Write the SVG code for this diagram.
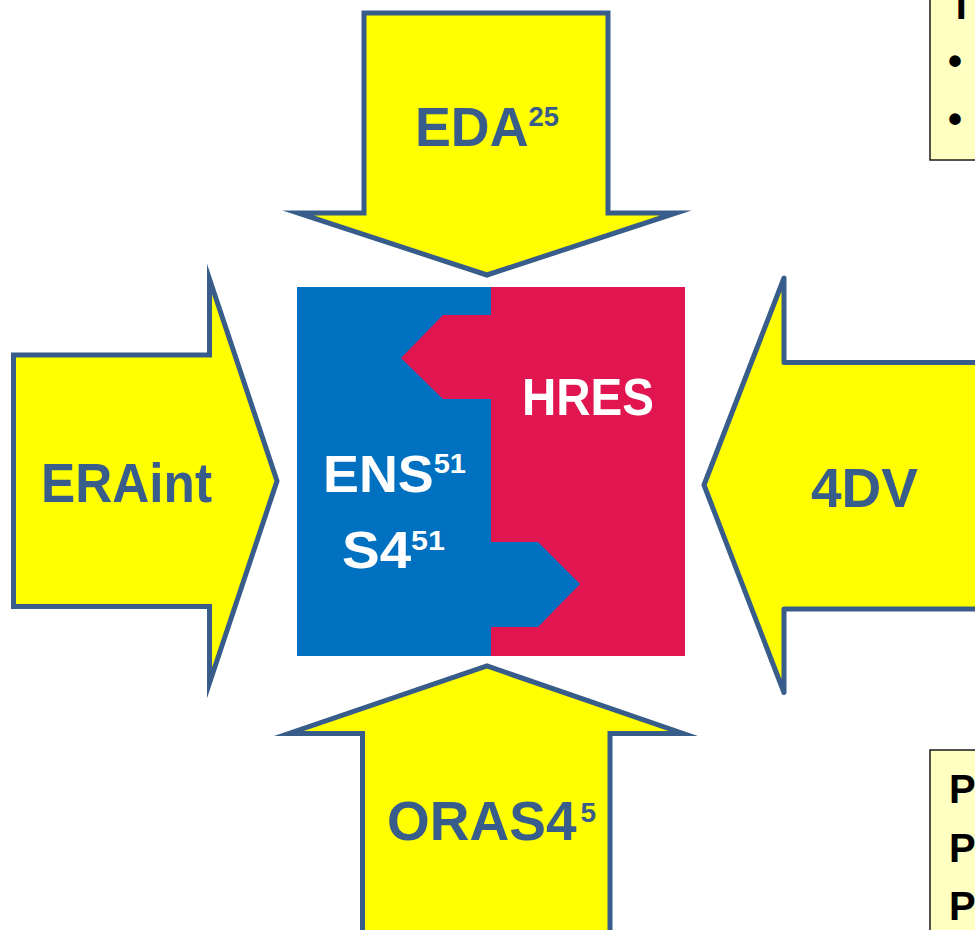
<svg xmlns="http://www.w3.org/2000/svg" width="975" height="930" viewBox="0 0 975 930">
<style>
.arrow{fill:#FFFF00;stroke:#385D8A;stroke-width:5;stroke-miterlimit:10}
.lbl{font-family:"Liberation Sans",Arial,sans-serif;font-weight:bold;fill:#385D8A;font-size:55px}
.wl{font-family:"Liberation Sans",Arial,sans-serif;font-weight:bold;fill:#FFFFFF;font-size:52px}
.sup{font-size:28px}
.note{fill:#FFFFC1;stroke:#1A1A1A;stroke-width:1.5}
.nt{font-family:"Liberation Sans",Arial,sans-serif;font-weight:bold;fill:#000000;font-size:40px}
</style>
<rect width="975" height="930" fill="#FFFFFF"/>
<g id="connectors"/>
<g id="node-eda">
<path class="arrow" d="M364,13 H608 V213 H676 L487,275 L298,213 H364 Z"/>
<text class="lbl" x="415" y="146" textLength="144" lengthAdjust="spacingAndGlyphs">EDA<tspan class="sup" dy="-20">25</tspan></text>
</g>
<g id="node-eraint">
<path class="arrow" d="M13.5,355 H209.5 V279 L277,481 L209.5,683 V606.5 H13.5 Z"/>
<text class="lbl" x="41" y="502" textLength="171" lengthAdjust="spacingAndGlyphs">ERAint</text>
</g>
<g id="node-4dv">
<path class="arrow" style="stroke-linejoin:round" d="M1000,362.5 H784 V278 L704,485 L784,692.5 V609 H1000 Z"/>
<text class="lbl" x="811" y="507" textLength="107" lengthAdjust="spacingAndGlyphs">4DV</text>
</g>
<g id="node-oras4">
<path class="arrow" d="M362.5,945 V733.5 H289 L487,666 L683,733.5 H610 V945 Z"/>
<text class="lbl" x="387" y="840" font-size="53">ORAS4<tspan class="sup" dx="4" dy="-18">5</tspan></text>
</g>
<g id="node-center">
<rect x="297" y="287" width="388" height="369" fill="#0070C0"/>
<path fill="#E11650" d="M491,287 H685 V656 H491 V627 H538 L580,584 L538,542 H491 V399 H443 L401,358 L443,315 H491 Z"/>
<text class="wl" x="522" y="415" textLength="132" lengthAdjust="spacingAndGlyphs">HRES</text>
<text class="wl" x="323" y="492" textLength="143" lengthAdjust="spacingAndGlyphs">ENS<tspan class="sup" dy="-19">51</tspan></text>
<text class="wl" x="342" y="568" textLength="103" lengthAdjust="spacingAndGlyphs">S4<tspan class="sup" dy="-18">51</tspan></text>
</g>
<g id="node-note-top">
<rect class="note" x="930" y="-10" width="60" height="170"/>
<text class="nt" x="949" y="19">T</text>
<text class="nt" x="948" y="75">•</text>
<text class="nt" x="948" y="133">•</text>
</g>
<g id="node-note-bottom">
<rect class="note" x="930" y="750" width="60" height="190"/>
<text class="nt" x="949" y="803">P</text>
<text class="nt" x="949" y="862">P</text>
<text class="nt" x="949" y="920">P</text>
</g>
</svg>
